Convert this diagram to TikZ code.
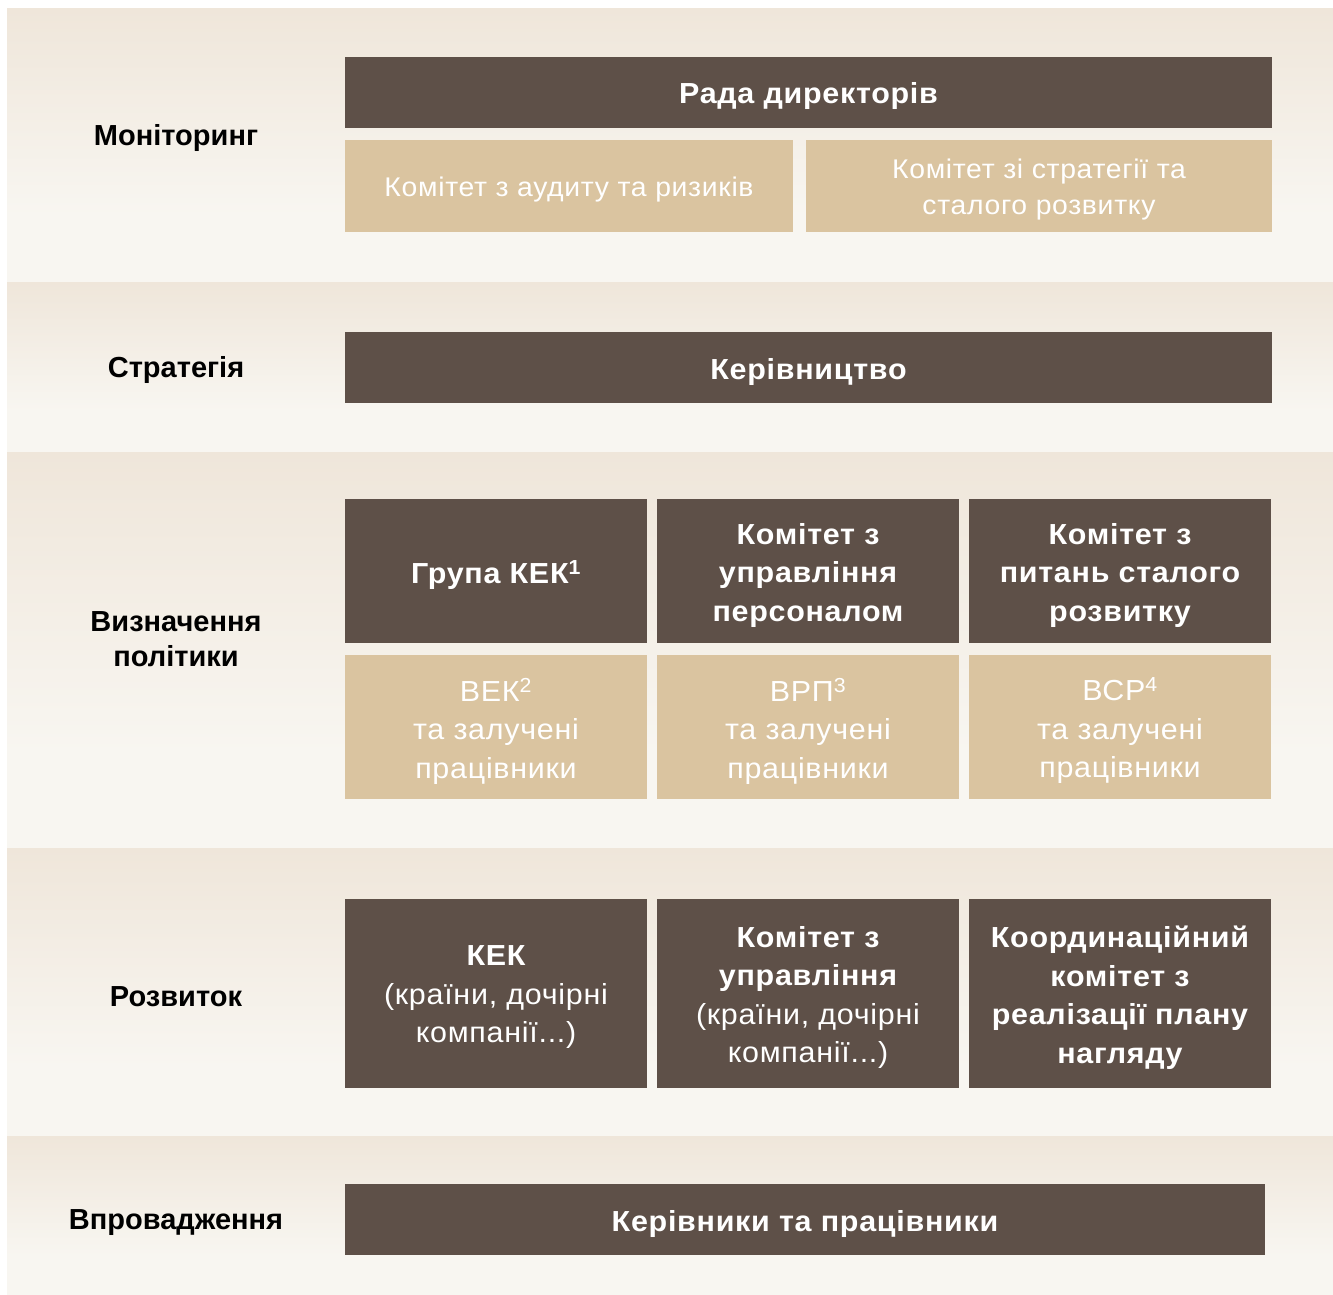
\documentclass[tikz,border=0pt]{standalone}
\usepackage{fontspec}
\setmainfont{Liberation Sans}
\newfontfamily\boxfont{Liberation Sans}[FakeStretch=1.05,LetterSpace=2.5]
\definecolor{dk}{HTML}{5E5048}
\definecolor{tanc}{HTML}{DAC4A0}
\definecolor{bandtop}{HTML}{EFE6DA}
\definecolor{bandbot}{HTML}{F8F6F1}
\pgfdeclareverticalshading{bandshade}{100bp}{color(0bp)=(bandbot); color(37bp)=(bandbot); color(75bp)=(bandtop); color(100bp)=(bandtop)}
\tikzset{
  dkbox/.style={fill=dk, inner sep=0pt},
  tanbox/.style={fill=tanc, inner sep=0pt},
  dktxt/.style={text=white, align=center, inner sep=0pt, yshift=-4pt, font=\boxfont\fontsize{29}{38.5}\selectfont\bfseries},
  tantxt/.style={text=white, align=center, inner sep=0pt, yshift=-4pt, font=\boxfont\fontsize{29}{38.5}\selectfont},
  smalltxt/.style={text=white, align=center, inner sep=0pt, yshift=-4pt, font=\boxfont\fontsize{27}{36}\selectfont},
  bandlabel/.style={align=center, text=black, inner sep=0pt, yshift=-2pt, font=\fontsize{29}{35}\selectfont\bfseries},
  band/.style={shading=bandshade}
}
\begin{document}
\begin{tikzpicture}[x=1pt,y=-1pt]
\useasboundingbox (0,0) rectangle (1333,1295);
\fill[white] (0,0) rectangle (1333,1295);
% bands
\shade[band] (7,9) rectangle (1333,282);
\shade[band] (7,282) rectangle (1333,452);
\shade[band] (7,452) rectangle (1333,848);
\shade[band] (7,848) rectangle (1333,1136);
\shade[band] (7,1136) rectangle (1333,1294);
% band labels
\node[bandlabel] (l1) at (176,136) {Моніторинг};
\node[bandlabel] (l2) at (176,368) {Стратегія};
\node[bandlabel] (l3) at (176,637.5) {Визначення\\політики};
\node[bandlabel] (l4) at (176,995) {Розвиток};
\node[bandlabel] (l5) at (176,1221) {Впровадження};
% monitoring
\node[dkbox, minimum width=927, minimum height=71] (rada) at (808.5,92.5) {};
\node[dktxt] (radat) at (rada) {Рада директорів};
\node[tanbox, minimum width=448, minimum height=92] (audit) at (569,186) {};
\node[smalltxt] (auditt) at (audit) {Комітет з аудиту та ризиків};
\node[tanbox, minimum width=466, minimum height=92] (strat) at (1039,186) {};
\node[smalltxt] (stratt) at (strat) {Комітет зі стратегії та\\сталого розвитку};
% strategy
\node[dkbox, minimum width=927, minimum height=71] (ker) at (808.5,367.5) {};
\node[dktxt] (kert) at (ker) {Керівництво};
% policy
\node[dkbox, minimum width=302, minimum height=144] (kek) at (496,571) {};
\node[dktxt] (kekt) at (kek) {Група КЕК\textsuperscript{1}};
\node[dkbox, minimum width=302, minimum height=144] (hr) at (808,571) {};
\node[dktxt] (hrt) at (hr) {Комітет з\\управління\\персоналом};
\node[dkbox, minimum width=302, minimum height=144] (sd) at (1120,571) {};
\node[dktxt] (sdt) at (sd) {Комітет з\\питань сталого\\розвитку};
\node[tanbox, minimum width=302, minimum height=144] (vek) at (496,727) {};
\node[tantxt] (vekt) at (vek) {ВЕК\textsuperscript{2}\\та залучені\\працівники};
\node[tanbox, minimum width=302, minimum height=144] (vrp) at (808,727) {};
\node[tantxt] (vrpt) at (vrp) {ВРП\textsuperscript{3}\\та залучені\\працівники};
\node[tanbox, minimum width=302, minimum height=144] (vsr) at (1120,727) {};
\node[tantxt] (vsrt) at (vsr) {ВСР\textsuperscript{4}\\та залучені\\працівники};
% development
\node[dkbox, minimum width=302, minimum height=189] (kek2) at (496,993.5) {};
\node[dktxt] (kek2t) at (kek2) {КЕК\\\mdseries (країни, дочірні\\\mdseries компанії...)};
\node[dkbox, minimum width=302, minimum height=189] (mgmt) at (808,993.5) {};
\node[dktxt] (mgmtt) at (mgmt) {Комітет з\\управління\\\mdseries (країни, дочірні\\\mdseries компанії...)};
\node[dkbox, minimum width=302, minimum height=189] (coord) at (1120,993.5) {};
\node[dktxt] (coordt) at (coord) {Координаційний\\комітет з\\реалізації плану\\нагляду};
% implementation
\node[dkbox, minimum width=920, minimum height=71] (impl) at (805,1219.5) {};
\node[dktxt] (implt) at (impl) {Керівники та працівники};
\end{tikzpicture}
\end{document}
